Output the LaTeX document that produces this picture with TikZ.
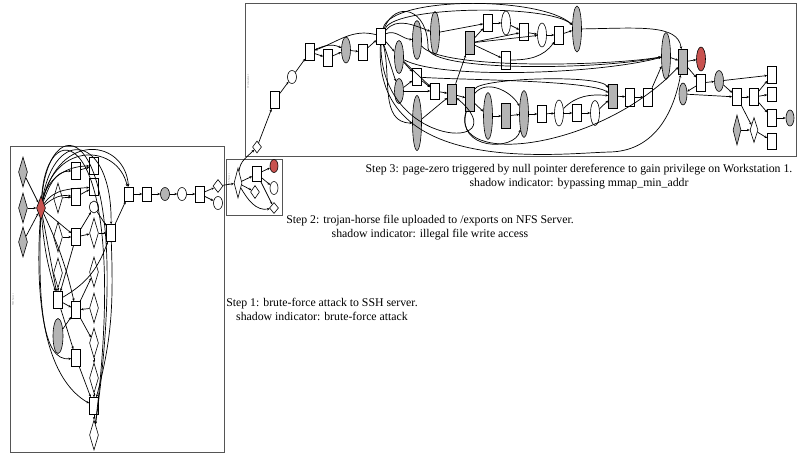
\documentclass[tikz,border=0pt]{standalone}
\usepackage{fontspec}
\setmainfont{Liberation Serif}
\definecolor{nodegray}{HTML}{B4B4B4}
\definecolor{hotred}{HTML}{C8524F}
\definecolor{frame}{HTML}{555555}
\usetikzlibrary{arrows.meta, shapes.geometric}

\begin{document}
\begin{tikzpicture}[
  x=1pt, y=-1pt,
  nd/.style={draw, line width=0.6pt, fill=white, inner sep=0pt},
  rbox/.style={nd, rectangle, minimum width=9pt, minimum height=17pt},
  grbox/.style={rbox, fill=nodegray},
  dia/.style={nd, diamond, minimum width=9pt, minimum height=30pt},
  gdia/.style={dia, fill=nodegray},
  oval/.style={nd, ellipse, minimum width=9pt, minimum height=13pt},
  goval/.style={oval, fill=nodegray},
  link/.style={-{Stealth[length=2.8pt, width=2.4pt]}, line width=0.7pt},
  cluster/.style={draw=frame, line width=0.8pt},
  tag/.style={font=\fontsize{2.5}{3}\selectfont, text=black!50, rotate=90, inner sep=0pt},
  caption/.style={font=\fontsize{11.8}{14}\selectfont, align=center, inner sep=0pt},
]
\useasboundingbox (0,0) rectangle (800,455);

% clusters
\draw[cluster] (10,146) rectangle (224,452);
\draw[cluster] (226,159) rectangle (282,215);
\draw[cluster] (245,3) rectangle (796,156);
\node[tag] (lblA) at (13,300) {SSH Server};
\node[tag] (lblB) at (229,180) {NFS Server};
\node[tag] (lblC) at (248,81) {Workstation 1};

% SSH server
\node[gdia] (a1) at (23,172) {};
\node[gdia] (a2) at (23,208) {};
\node[gdia] (a3) at (23,242) {};
\node[dia, fill=hotred, minimum height=24pt] (a4) at (41,208) {};
\node[rbox] (a5) at (76,171) {};
\node[rbox] (a6) at (94,166) {};
\node[rbox] (a7) at (94,187) {};
\node[rbox] (a8) at (76,197) {};
\node[dia] (a9) at (58,198) {};
\node[dia] (a10) at (58,237) {};
\node[dia] (a11) at (58,273) {};
\node[oval, minimum height=12pt] (a12) at (94,207) {};
\node[rbox] (a13) at (76,237) {};
\node[dia] (a14) at (94,233) {};
\node[rbox] (a15) at (111,233) {};
\node[dia] (a16) at (94,272) {};
\node[rbox] (a17) at (58,300) {};
\node[rbox] (a18) at (76,310) {};
\node[dia] (a19) at (94,308) {};
\node[goval, minimum width=10pt, minimum height=35pt] (a20) at (58,336) {};
\node[rbox] (a21) at (76,358) {};
\node[dia] (a22) at (94,343) {};
\node[dia] (a23) at (94,378) {};
\node[rbox] (a24) at (94,406) {};
\node[dia] (a25) at (94,435) {};
\node[rbox, minimum height=14pt] (a26) at (129,194) {};
\node[rbox, minimum height=14pt] (a27) at (147,194) {};
\node[goval] (a28) at (165,194) {};
\node[oval] (a29) at (182,194) {};
\node[rbox, minimum height=16pt] (a30) at (200,194) {};
\node[dia, minimum width=10pt, minimum height=13pt] (a31) at (218,186) {};
\node[oval] (a32) at (218,203) {};

% NFS server
\node[dia, minimum width=8pt] (b1) at (238,183) {};
\node[rbox, minimum height=15pt] (b2) at (257,174) {};
\node[oval, fill=hotred, minimum width=8pt] (b3) at (274,166) {};
\node[oval, minimum width=8pt] (b4) at (274,188) {};
\node[dia, minimum height=13pt] (b5) at (255,192) {};
\node[dia, minimum height=11pt] (b6) at (274,208) {};

% workstation
\node[dia, minimum height=12pt] (c1) at (257,147) {};
\node[rbox] (c2) at (275,100) {};
\node[oval] (c3) at (292,77) {};
\node[rbox] (c4) at (310,52) {};
\node[rbox] (c5) at (328,58) {};
\node[goval, minimum height=26pt] (c6) at (346,50) {};
\node[rbox, minimum height=16pt] (c7) at (363,52) {};
\node[rbox, minimum height=16pt] (c8) at (381,36) {};
\node[goval, minimum height=33pt] (c9) at (399,57) {};
\node[goval, minimum height=25pt] (c10) at (399,91) {};
\node[goval, minimum height=39pt] (c11) at (417,40) {};
\node[goval, minimum height=43pt] (c12) at (435,33) {};
\node[rbox] (c13) at (417,77) {};
\node[rbox, minimum height=16pt] (c14) at (435,91) {};
\node[goval, minimum height=55pt] (c15) at (417,123) {};
\node[grbox, minimum height=20pt] (c16) at (452,94) {};
\node[grbox, minimum height=23pt] (c17) at (470,43) {};
\node[rbox] (c18) at (488,23) {};
\node[oval, minimum height=24pt] (c19) at (506,23) {};
\node[rbox] (c20) at (524,32) {};
\node[oval, minimum height=24pt] (c21) at (542,35) {};
\node[rbox, minimum height=18pt] (c22) at (559,35) {};
\node[goval, minimum height=46pt] (c23) at (577,29) {};
\node[rbox, minimum height=18pt] (c24) at (506,60) {};
\node[grbox, minimum height=24pt] (c25) at (470,99) {};
\node[goval, minimum height=47pt] (c26) at (488,116) {};
\node[grbox, minimum height=25pt] (c27) at (506,116) {};
\node[goval, minimum height=47pt] (c28) at (524,114) {};
\node[rbox] (c29) at (542,114) {};
\node[oval, minimum height=26pt] (c30) at (559,113) {};
\node[rbox] (c31) at (577,113) {};
\node[oval, minimum height=25pt] (c32) at (595,113) {};
\node[grbox, minimum height=24pt] (c33) at (613,96) {};
\node[rbox, minimum height=18pt] (c34) at (630,97) {};
\node[rbox, minimum height=18pt] (c35) at (648,97) {};
\node[goval, minimum height=47pt] (c36) at (666,56) {};
\node[grbox, minimum height=25pt] (c37) at (683,62) {};
\node[oval, fill=hotred, minimum height=24pt] (c38) at (701,59) {};
\node[goval, minimum width=8pt, minimum height=22pt] (c39) at (683,94) {};
\node[rbox] (c40) at (701,83) {};
\node[goval, minimum height=21pt] (c41) at (719,81) {};
\node[rbox] (c42) at (737,97) {};
\node[rbox] (c43) at (754,97) {};
\node[rbox] (c44) at (772,75) {};
\node[rbox, minimum height=14pt] (c45) at (772,94) {};
\node[rbox] (c46) at (772,118) {};
\node[goval, minimum width=8pt, minimum height=16pt] (c47) at (790,118) {};
\node[rbox, minimum height=16pt] (c48) at (772,141) {};
\node[gdia, minimum width=8pt] (c49) at (737,130) {};
\node[dia, minimum width=8pt, minimum height=25pt] (c50) at (754,130) {};

% edges, SSH server
\draw[link] (a1) -- (a4);
\draw[link] (a2) -- (a4);
\draw[link] (a3) -- (a4);
\draw[link] (a4) to[out=70,in=180] (a5);
\draw[link] (a4) to[out=78,in=180] (a6);
\draw[link] (a4) to[out=55,in=185] (a7);
\draw[link] (a4) to[out=40,in=170] (a8);
\draw[link] (a5) -- (a6);
\draw[link] (a8) -- (a7);
\draw[link] (a9) -- (a8);
\draw[link] (a4) -- (a13);
\draw[link] (a10) -- (a13);
\draw[link] (a13) -- (a12);
\draw[link] (a13) -- (a14);
\draw[link] (a12) -- (a15);
\draw[link] (a14) -- (a15);
\draw[link] (a15) -- (a26);
\draw[link] (a4) .. controls (60,130) and (125,140) .. (a26);
\draw[link] (a4) .. controls (56,140) and (118,145) .. (a26);
\draw[link] (a4) .. controls (55,125) and (112,135) .. (a15);
\draw[link] (a4) .. controls (50,100) and (138,120) .. (a25);
\draw[link] (a4) .. controls (47,108) and (132,126) .. (a25);
\draw[link] (a15) to[out=-88,in=75] (a24);
\draw[link] (a4) -- (a17);
\draw[link] (a4) to[bend right=6] (a17);
\draw[link] (a4) to[bend left=6] (a18);
\draw[link] (a13) -- (a17);
\draw[link] (a11) -- (a17);
\draw[link] (a18) -- (a16);
\draw[link] (a17) to[out=30,in=-110] (a15);
\draw[link] (a17) -- (a18);
\draw[link] (a19) -- (a18);
\draw[link] (a20) -- (a18);
\draw[link] (a17) -- (a21);
\draw[link] (a18) -- (a22);
\draw[link] (a22) -- (a23);
\draw[link] (a4) .. controls (38,300) and (42,362) .. (a21);
\draw[link] (a4) .. controls (34,310) and (48,380) .. (a24);
\draw[link] (a21) -- (a24);
\draw[link] (a23) -- (a24);
\draw[link] (a24) -- (a25);
\draw[link] (a26) -- (a27);
\draw[link] (a27) -- (a28);
\draw[link] (a28) -- (a29);
\draw[link] (a29) -- (a30);
\draw[link] (a30) -- (a31);
\draw[link] (a30) -- (a32);
\draw[link] (a31) -- (b1);

% edges, NFS server
\draw[link] (b1) -- (b2);
\draw[link] (b1) -- (b5);
\draw[link] (b1) to[out=-60,in=190] (b6);
\draw[link] (b2) -- (b3);
\draw[link] (b2) -- (b4);
\draw[link] (b2) -- (b6);
\draw[link] (b1) to[out=85,in=225] (c1);

% edges, workstation
\draw[link] (c1) -- (c2);
\draw[link] (c2) -- (c3);
\draw[link] (c3) -- (c4);
\draw[link] (c4) -- (c5);
\draw[link] (c5) -- (c6);
\draw[link] (c4) to[out=25,in=155] (c6);
\draw[link] (c6) -- (c7);
\draw[link] (c7) -- (c8);
\draw[link] (c8) to[out=165,in=20] (c4);
\draw[link] (c8) -- (c9);
\draw[link] (c8) -- (c10);
\draw[link] (c8) to[out=25,in=175] (c11);
\draw[link] (c8) to[out=50,in=160] (c12);
\draw[link] (c8) .. controls (392,-4) and (540,-4) .. (c23);
\draw[link] (c8) .. controls (398,6) and (548,4) .. (c23);
\draw[link] (c8) to[out=-75,in=180] (c15);
\draw[link] (c8) .. controls (380,150) and (520,152) .. (c16);
\draw[link] (c8) .. controls (372,178) and (560,153) .. (610,152) .. controls (650,151) and (672,120) .. (c37);
\draw[link] (c8) .. controls (396,0) and (428,8) .. (428,48) .. controls (430,72) and (600,70) .. (c36);
\draw[link] (c9) .. controls (440,80) and (600,74) .. (c36);
\draw[link] (c11) .. controls (440,70) and (610,66) .. (c36);
\draw[link] (c13) .. controls (460,80) and (590,80) .. (c33);
\draw[link] (c9) -- (c13);
\draw[link] (c10) -- (c13);
\draw[link] (c10) -- (c14);
\draw[link] (c9) -- (c14);
\draw[link] (c13) -- (c14);
\draw[link] (c14) -- (c16);
\draw[link] (c15) -- (c16);
\draw[link] (c16) -- (c17);
\draw[link] (c16) -- (c25);
\draw[link] (c12) -- (c18);
\draw[link] (c17) -- (c18);
\draw[link] (c18) -- (c19);
\draw[link] (c19) -- (c20);
\draw[link] (c20) -- (c21);
\draw[link] (c21) -- (c22);
\draw[link] (c22) -- (c23);
\draw[link] (c17) -- (c20);
\draw[link] (c17) -- (c21);
\draw[link] (c17) -- (c24);
\draw[link] (c24) to[out=0,in=235] (c22);
\draw[link] (c23) .. controls (640,28) and (678,24) .. (c37);
\draw[link] (c25) -- (c26);
\draw[link] (c26) -- (c27);
\draw[link] (c27) -- (c28);
\draw[link] (c25) to[out=50,in=120] (c28);
\draw[link] (c25) .. controls (455,150) and (515,152) .. (c28);
\draw[link] (c25) .. controls (480,78) and (600,74) .. (c33);
\draw[link] (c25) .. controls (448,168) and (600,150) .. (c37);
\draw[link] (c28) -- (c29);
\draw[link] (c29) -- (c30);
\draw[link] (c30) -- (c31);
\draw[link] (c31) -- (c32);
\draw[link] (c32) -- (c33);
\draw[link] (c30) to[out=45,in=175] (c33);
\draw[link] (c33) -- (c34);
\draw[link] (c34) -- (c35);
\draw[link] (c35) -- (c36);
\draw[link] (c36) -- (c37);
\draw[link] (c37) -- (c38);
\draw[link] (c37) -- (c40);
\draw[link] (c40) -- (c39);
\draw[link] (c40) -- (c41);
\draw[link] (c39) -- (c42);
\draw[link] (c41) -- (c42);
\draw[link] (c41) -- (c44);
\draw[link] (c42) -- (c43);
\draw[link] (c43) -- (c44);
\draw[link] (c43) -- (c45);
\draw[link] (c43) -- (c46);
\draw[link] (c46) -- (c47);
\draw[link] (c42) -- (c50);
\draw[link] (c49) -- (c50);
\draw[link] (c50) -- (c48);

% steps
\node[caption] (step3) at (579,177) {Step 3: page-zero triggered by null pointer dereference to gain privilege on Workstation 1.\\shadow indicator: bypassing mmap\_min\_addr};
\node[caption] (step2) at (430,228) {Step 2: trojan-horse file uploaded to /exports on NFS Server.\\shadow indicator: illegal file write access};
\node[caption] (step1) at (322,309) {Step 1: brute-force attack to SSH server.\\shadow indicator: brute-force attack};
\end{tikzpicture}
\end{document}
